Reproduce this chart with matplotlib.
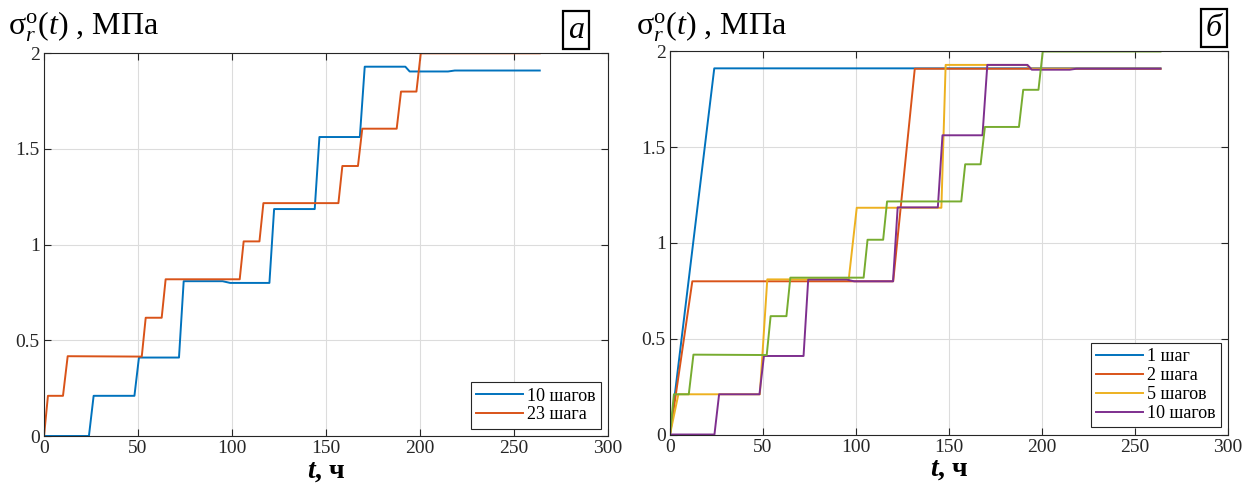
# Radial stress vs time for different numbers of loading steps
import matplotlib.pyplot as plt
from matplotlib.ticker import FuncFormatter

# Data
# 10 steps (panel a blue, panel b purple)
t10 = [0, 23.9, 26.4, 48.1, 50.5, 71.8, 74.3, 95, 99, 119.9, 122.4, 144, 146.5,
       168, 170.6, 192.2, 194.5, 214.9, 218.5, 263.7]
s10 = [0, 0, 0.21, 0.21, 0.41, 0.41, 0.809, 0.809, 0.80, 0.80, 1.186, 1.186, 1.5625,
       1.5625, 1.93, 1.93, 1.905, 1.905, 1.91, 1.91]
# 23 steps (panel a orange, panel b green)
t23 = [0, 2.1, 10.1, 12.6, 52, 54.1, 62.6, 64.7, 104.1, 106.2, 114.6, 116.7,
       156.6, 158.7, 167, 169.3, 187.6, 189.9, 198.1, 200.4, 263.7]
s23 = [0, 0.21, 0.21, 0.417, 0.415, 0.618, 0.618, 0.819, 0.819, 1.017, 1.017, 1.217,
       1.217, 1.411, 1.411, 1.606, 1.606, 1.80, 1.80, 2.0, 2.0]
# 1 step
t1 = [0, 23.8, 263.7]
s1 = [0, 1.912, 1.912]
# 2 steps
t2 = [0, 12, 120, 131.6, 263.7]
s2 = [0, 0.80, 0.80, 1.91, 1.91]
# 5 steps
t5 = [0, 4.5, 48.3, 52.3, 96.1, 100.4, 145.9, 148.2, 191.6, 194.2, 263.7]
s5 = [0, 0.21, 0.21, 0.81, 0.81, 1.184, 1.184, 1.93, 1.93, 1.91, 1.91]

# MATLAB default colours
c_blue = '#0072BD'
c_orange = '#D95319'
c_yellow = '#EDB120'
c_purple = '#7E2F8E'
c_green = '#77AC30'

plt.rcParams['font.family'] = 'Liberation Serif'
plt.rcParams['mathtext.fontset'] = 'custom'
plt.rcParams['mathtext.rm'] = 'Liberation Serif'
plt.rcParams['mathtext.it'] = 'Liberation Serif:italic'
plt.rcParams['mathtext.bf'] = 'Liberation Serif:italic:bold'

W, H = 1258, 490
fig = plt.figure(figsize=(W / 100, H / 100), dpi=100)
ax1 = fig.add_axes([44 / W, 1 - 436 / H, 564 / W, (436 - 53.3) / H])
ax2 = fig.add_axes([670 / W, 1 - 434.5 / H, 558 / W, (434.5 - 51.5) / H])

lw = 1.4
ax1.plot(t10, s10, color=c_blue, lw=lw, label='10 шагов')
ax1.plot(t23, s23, color=c_orange, lw=lw, label='23 шага')

ax2.plot(t1, s1, color=c_blue, lw=lw, label='1 шаг')
ax2.plot(t2, s2, color=c_orange, lw=lw, label='2 шага')
ax2.plot(t5, s5, color=c_yellow, lw=lw, label='5 шагов')
ax2.plot(t10, s10, color=c_purple, lw=lw, label='10 шагов')
ax2.plot(t23, s23, color=c_green, lw=lw)

fmt = FuncFormatter(lambda v, p: '%g' % v)
for ax in (ax1, ax2):
    ax.set_xlim(0, 300)
    ax.set_ylim(0, 2)
    ax.set_xticks([0, 50, 100, 150, 200, 250, 300])
    ax.set_yticks([0, 0.5, 1, 1.5, 2])
    ax.yaxis.set_major_formatter(fmt)
    ax.grid(True, color='#dcdcdc', lw=0.8)
    ax.set_axisbelow(True)
    ax.tick_params(direction='in', length=5, width=0.8, colors='#262626',
                   labelsize=14, top=True, right=True, pad=3)
    for sp in ax.spines.values():
        sp.set_color('#262626')
        sp.set_linewidth(0.8)
    ax.set_xlabel(r'$\mathbf{t}$, ч', fontsize=20, fontweight='bold', labelpad=1)
    leg = ax.legend(loc='lower right', fontsize=13, handlelength=2.6,
                    borderpad=0.3, labelspacing=0.1, handletextpad=0.2,
                    borderaxespad=0.4, fancybox=False, framealpha=1)
    leg.get_frame().set_edgecolor('#262626')
    leg.get_frame().set_linewidth(0.8)

# y labels at the top-left of each panel
ylab = r'σ$_r^{\rm o}(t)$ , МПа'
fig.text(8 / W, 1 - 35 / H, ylab, fontsize=23, va='baseline')
fig.text(636 / W, 1 - 35 / H, ylab, fontsize=23, va='baseline')

# panel letters in boxes
box = dict(boxstyle='square,pad=0.15', fc='white', ec='black', lw=1.6)
fig.text(576 / W, 1 - 30 / H, 'а', fontsize=23, style='italic', ha='center', va='center', bbox=box)
fig.text(1214 / W, 1 - 28 / H, 'б', fontsize=23, style='italic', ha='center', va='center', bbox=box)

fig.savefig('out.png', dpi=100)
